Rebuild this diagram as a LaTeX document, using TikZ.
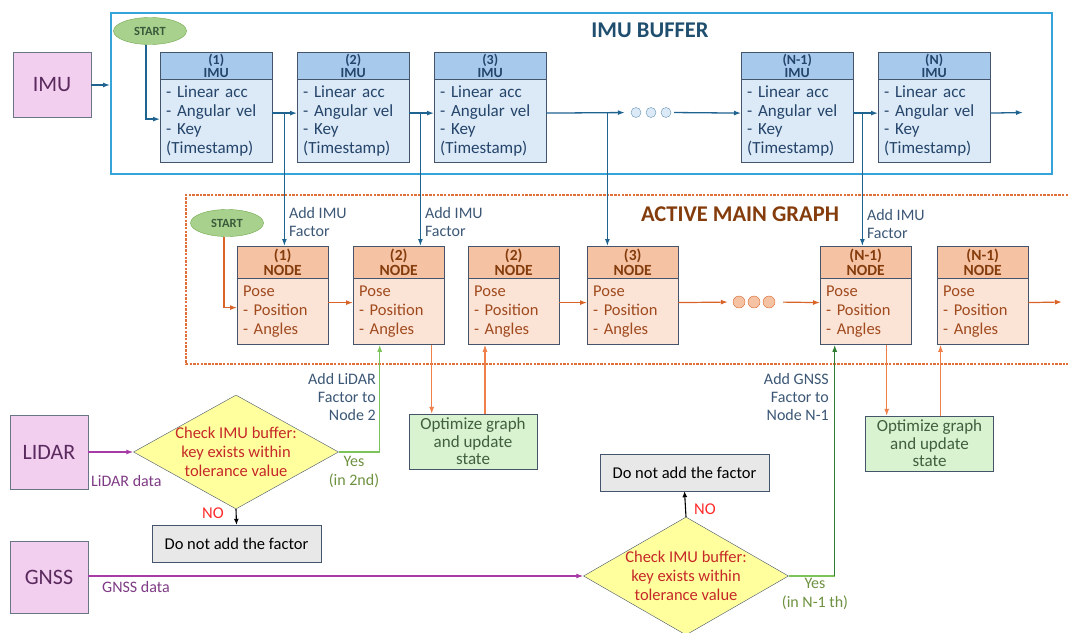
\documentclass[tikz,border=0pt]{standalone}
\usepackage{fontspec}
\setmainfont{Carlito}
\usetikzlibrary{calc,shapes.geometric,arrows.meta,positioning}

\definecolor{bufferblue}{HTML}{36A3D9}
\definecolor{buffernavy}{HTML}{1F4E6E}
\definecolor{imuteal}{HTML}{1F6391}
\definecolor{boxgrey}{HTML}{44546A}
\definecolor{imuheadfill}{HTML}{A7CAEC}
\definecolor{imubodyfill}{HTML}{DCEAF7}
\definecolor{imuink}{HTML}{24446A}
\definecolor{graphorange}{HTML}{E0703A}
\definecolor{graphbrown}{HTML}{843C0C}
\definecolor{poseheadfill}{HTML}{F5C2A4}
\definecolor{posebodyfill}{HTML}{FBE3D6}
\definecolor{poseink}{HTML}{A04A1E}
\definecolor{posewire}{HTML}{D9642A}
\definecolor{optwire}{HTML}{F0804A}
\definecolor{optfill}{HTML}{D9F2D0}
\definecolor{optink}{HTML}{3F5F3F}
\definecolor{startfill}{HTML}{A9D18E}
\definecolor{startrim}{HTML}{6FA84A}
\definecolor{startink}{HTML}{3A5A3A}
\definecolor{sensorfill}{HTML}{F2CEEF}
\definecolor{sensorink}{HTML}{5A2A5E}
\definecolor{datawire}{HTML}{A63CA6}
\definecolor{dataink}{HTML}{7E3A84}
\definecolor{checkfill}{HTML}{FFFF9E}
\definecolor{checkred}{HTML}{C62828}
\definecolor{factorink}{HTML}{3B5775}
\definecolor{yeslightwire}{HTML}{7CC35A}
\definecolor{yesdarkwire}{HTML}{2E7D32}
\definecolor{yesink}{HTML}{6E9140}
\definecolor{nored}{HTML}{FF2A2A}
\definecolor{skipfill}{HTML}{E8E8E8}

\tikzset{
	imuhead/.style={draw=boxgrey, fill=imuheadfill, text=imuink, minimum width=112pt, minimum height=27pt, inner sep=0pt, align=center, font=\bfseries\fontsize{14}{13.5}\selectfont},
	imubody/.style={draw=boxgrey, fill=imubodyfill, text=imuink, text width=100pt, inner xsep=6pt, minimum height=83pt, align=left, font=\fontsize{17}{18.7}\selectfont},
	posehead/.style={draw=boxgrey, fill=poseheadfill, text=graphbrown, minimum width=91pt, minimum height=32pt, inner sep=0pt, align=center, font=\bfseries\fontsize{15.5}{15.5}\selectfont},
	posebody/.style={draw=boxgrey, fill=posebodyfill, text=poseink, text width=79pt, inner xsep=6pt, minimum height=66pt, align=left, font=\fontsize{16.5}{19}\selectfont},
	startshape/.style={ellipse, draw=startrim, fill=startfill, text=startink, minimum width=73pt, minimum height=27pt, inner sep=0pt, font=\bfseries\fontsize{12.5}{12.5}\selectfont},
	sensorbox/.style={draw=boxgrey!80, fill=sensorfill, text=sensorink, minimum width=78pt, inner sep=0pt, font=\fontsize{22}{22}\selectfont},
	checkshape/.style={diamond, draw=boxgrey, fill=checkfill, minimum width=205pt, minimum height=114pt, inner sep=0pt},
	checklabel/.style={text=checkred, align=center, font=\fontsize{16.5}{19}\selectfont},
	skipbox/.style={draw=boxgrey, fill=skipfill, minimum width=169pt, minimum height=37pt, font=\fontsize{16.5}{19}\selectfont},
	optbox/.style={draw=boxgrey, fill=optfill, text=optink, minimum width=128pt, minimum height=55pt, inner sep=0pt, align=center, font=\fontsize{17}{17.5}\selectfont},
	imudot/.style={circle, draw=imuteal!70, fill=imubodyfill, minimum size=10pt, inner sep=0pt},
	posedot/.style={circle, draw=posewire, fill=poseheadfill, minimum size=12pt, inner sep=0pt},
	titletext/.style={font=\bfseries\fontsize{22.5}{22.5}\selectfont},
	factorlabel/.style={text=factorink, inner sep=1pt, font=\fontsize{16}{18}\selectfont},
	yeslabel/.style={text=yesink, align=center, inner sep=1pt, font=\fontsize{16}{19}\selectfont},
	nolabel/.style={text=nored, inner sep=1pt, font=\fontsize{16.5}{17}\selectfont},
	datalabel/.style={text=dataink, inner sep=1pt, font=\fontsize{16}{17}\selectfont},
	imuarrow/.style={draw=imuteal, line width=1.3pt, -{Latex[length=7pt,width=5pt]}},
	posearrow/.style={draw=posewire, line width=1.2pt, -{Latex[length=7pt,width=5pt]}},
	optarrow/.style={draw=optwire, line width=1.1pt, -{Latex[length=7pt,width=5pt]}},
	dataarrow/.style={draw=datawire, line width=1.2pt, -{Latex[length=7pt,width=5pt]}},
	yesarrow/.style={draw=yeslightwire, line width=1.2pt, -{Latex[length=7pt,width=5pt]}},
	noarrow/.style={draw=black, line width=1.1pt, -{Latex[length=6pt,width=5pt]}},
	graphframe/.style={draw=graphorange, line width=1.6pt, dash pattern=on 2.5pt off 1.2pt}
}

\def\imublock(#1)(#2)(#3){
	\node[imuhead, anchor=north west] (#1h) at (#2,52) {(#3)\\IMU};
	\node[imubody, anchor=north] (#1) at (#1h.south) {- Linear acc\\- Angular vel\\- Key\\(Timestamp)};
}
\def\poseblock(#1)(#2)(#3){
	\node[posehead, anchor=north west] (#1h) at (#2,246) {(#3)\\NODE};
	\node[posebody, anchor=north] (#1) at (#1h.south) {Pose\\- Position\\- Angles};
}

\begin{document}
\begin{tikzpicture}[x=1pt,y=-1pt]
	\useasboundingbox (0,0) rectangle (1068,632);

	\node[draw=bufferblue, line width=2pt, minimum width=941pt, minimum height=161pt, anchor=north west] (buffer) at (110,12) {};
	\node[titletext, text=buffernavy] (buftitle) at (650,30) {IMU BUFFER};
	\node[sensorbox, minimum height=65pt] (imusrc) at (52,85) {IMU};
	\draw[imuarrow] (imusrc.east) -- (imusrc.east -| buffer.west);

	\node[startshape] (starta) at (150,31) {START};
	\imublock(imua)(160)(1)
	\imublock(imub)(297)(2)
	\imublock(imuc)(434)(3)
	\imublock(imud)(741)(N-1)
	\imublock(imue)(878)(N)
	\node[imudot] (idota) at (636,112.5) {};
	\node[imudot] (idotb) at (651,112.5) {};
	\node[imudot] (idotc) at (666,112.5) {};
	\coordinate (imuout) at (1023,112.5);

	\draw[imuarrow] ([xshift=-4pt]starta.south) |- ([yshift=2pt]imua.west);
	\draw[imuarrow] ([yshift=8pt]imua.east) -- ([yshift=8pt]imub.west);
	\draw[imuarrow] ([yshift=8pt]imub.east) -- ([yshift=8pt]imuc.west);
	\draw[imuarrow, shorten >=6pt] ([yshift=8pt]imuc.east) -- (idota.west);
	\draw[imuarrow, shorten <=3pt] (idotc.east) -- ([yshift=8pt]imud.west);
	\draw[imuarrow] ([yshift=8pt]imud.east) -- ([yshift=8pt]imue.west);
	\draw[imuarrow] ([yshift=8pt]imue.east) -- (imuout);

	\draw[graphframe] (1068,195) -- (186,195) -- (186,364) -- (1068,364);
	\node[titletext, text=graphbrown] (graphtitle) at (740,214) {ACTIVE MAIN GRAPH};

	\node[startshape] (startb) at (227,223) {START};
	\poseblock(posea)(237)(1)
	\poseblock(poseb)(353)(2)
	\poseblock(posec)(468)(2)
	\poseblock(posed)(587)(3)
	\poseblock(posee)(820)(N-1)
	\poseblock(posef)(937)(N-1)
	\node[posedot] (pdota) at (739,302) {};
	\node[posedot] (pdotb) at (754,302) {};
	\node[posedot] (pdotc) at (769,302) {};
	\coordinate (poseout) at (1062,302);

	\draw[posearrow] ([xshift=-3pt]startb.south) |- ([yshift=4pt]posea.west);
	\draw[posearrow] ([yshift=9pt]posea.east) -- ([yshift=9pt]poseb.west);
	\draw[posearrow] ([yshift=9pt]posec.east) -- ([yshift=9pt]posed.west);
	\draw[posearrow, shorten >=5pt] ([yshift=9pt]posed.east) -- (pdota.west);
	\draw[posearrow, shorten <=8pt] (pdotc.east) -- ([yshift=9pt]posee.west);
	\draw[posearrow] ([yshift=9pt]posef.east) -- (poseout);

	\coordinate (ja) at ([xshift=12pt,yshift=8pt]imua.east);
	\coordinate (jb) at ([xshift=11pt,yshift=8pt]imub.east);
	\coordinate (jc) at ([xshift=61pt,yshift=8pt]imuc.east);
	\coordinate (jd) at ([xshift=9pt,yshift=8pt]imud.east);
	\draw[imuarrow] (ja) -- (ja |- poseah.north) node[factorlabel, align=left, anchor=south west, pos=1, xshift=3pt, yshift=8pt] {Add IMU\\Factor};
	\draw[imuarrow] (jb) -- (jb |- posebh.north) node[factorlabel, align=left, anchor=south west, pos=1, xshift=3pt, yshift=8pt] {Add IMU\\Factor};
	\draw[imuarrow] (jc) -- (jc |- posedh.north);
	\draw[imuarrow] (jd) -- (jd |- poseeh.north) node[factorlabel, align=left, anchor=south west, pos=1, xshift=3pt, yshift=6pt] {Add IMU\\Factor};

	\node[optbox] (opta) at (473,441.5) {Optimize graph\\and update\\state};
	\node[optbox] (optb) at (929.5,443.5) {Optimize graph\\and update\\state};
	\draw[optarrow] ([xshift=33pt]poseb.south) -- ([xshift=33pt]poseb.south |- opta.north);
	\draw[optarrow] ([xshift=12pt]opta.north) -- ([xshift=12pt]opta.north |- posec.south);
	\draw[optarrow] ([xshift=21pt]posee.south) -- ([xshift=21pt]posee.south |- optb.north);
	\draw[optarrow] ([xshift=11pt]optb.north) -- ([xshift=11pt]optb.north |- posef.south);

	\node[sensorbox, minimum height=74pt] (lidar) at (49,452) {LIDAR};
	\node[checkshape, label={[checklabel]center:{Check IMU buffer:\\key exists within\\tolerance value}}] (checka) at (236,452) {};
	\node[skipbox] (skipa) at (236.5,543.5) {Do not add the factor};
	\draw[dataarrow] (lidar.east) -- (checka.west);
	\node[datalabel, anchor=west] (lidarlbl) at (90,481) {LiDAR data};
	\draw[yesarrow] (checka.east) -| ([xshift=-19pt]poseb.south);
	\node[yeslabel] (yesa) at (354,472) {Yes\\(in 2nd)};
	\node[factorlabel, align=right, anchor=east] (lidarfac) at (377,396.5) {Add LiDAR\\Factor to\\Node 2};
	\draw[noarrow] (checka.south) -- (skipa.north);
	\node[nolabel] (noa) at (213,513) {NO};

	\node[sensorbox, minimum height=72pt] (gnss) at (49,577) {GNSS};
	\node[checkshape, minimum height=118pt, label={[checklabel]center:{Check IMU buffer:\\key exists within\\tolerance value}}] (checkb) at (686,576) {};
	\node[skipbox] (skipb) at (684.5,472.5) {Do not add the factor};
	\draw[dataarrow] (gnss.east |- checkb.west) -- (checkb.west);
	\node[datalabel, anchor=west] (gnsslbl) at (101,587) {GNSS data};
	\coordinate (yb) at ([xshift=-31pt]posee.south |- checkb.east);
	\draw[draw=yeslightwire, line width=1.2pt] (checkb.east) -- (yb);
	\draw[yesarrow, draw=yesdarkwire] (yb) -- ([xshift=-31pt]posee.south);
	\node[yeslabel] (yesb) at (815,594) {Yes\\(in N-1 th)};
	\node[factorlabel, align=right, anchor=east] (gnssfac) at (830,397) {Add GNSS\\Factor to\\Node N-1};
	\draw[noarrow] (checkb.north) -- (skipb.south);
	\node[nolabel] (nob) at (705,509) {NO};
\end{tikzpicture}
\end{document}
